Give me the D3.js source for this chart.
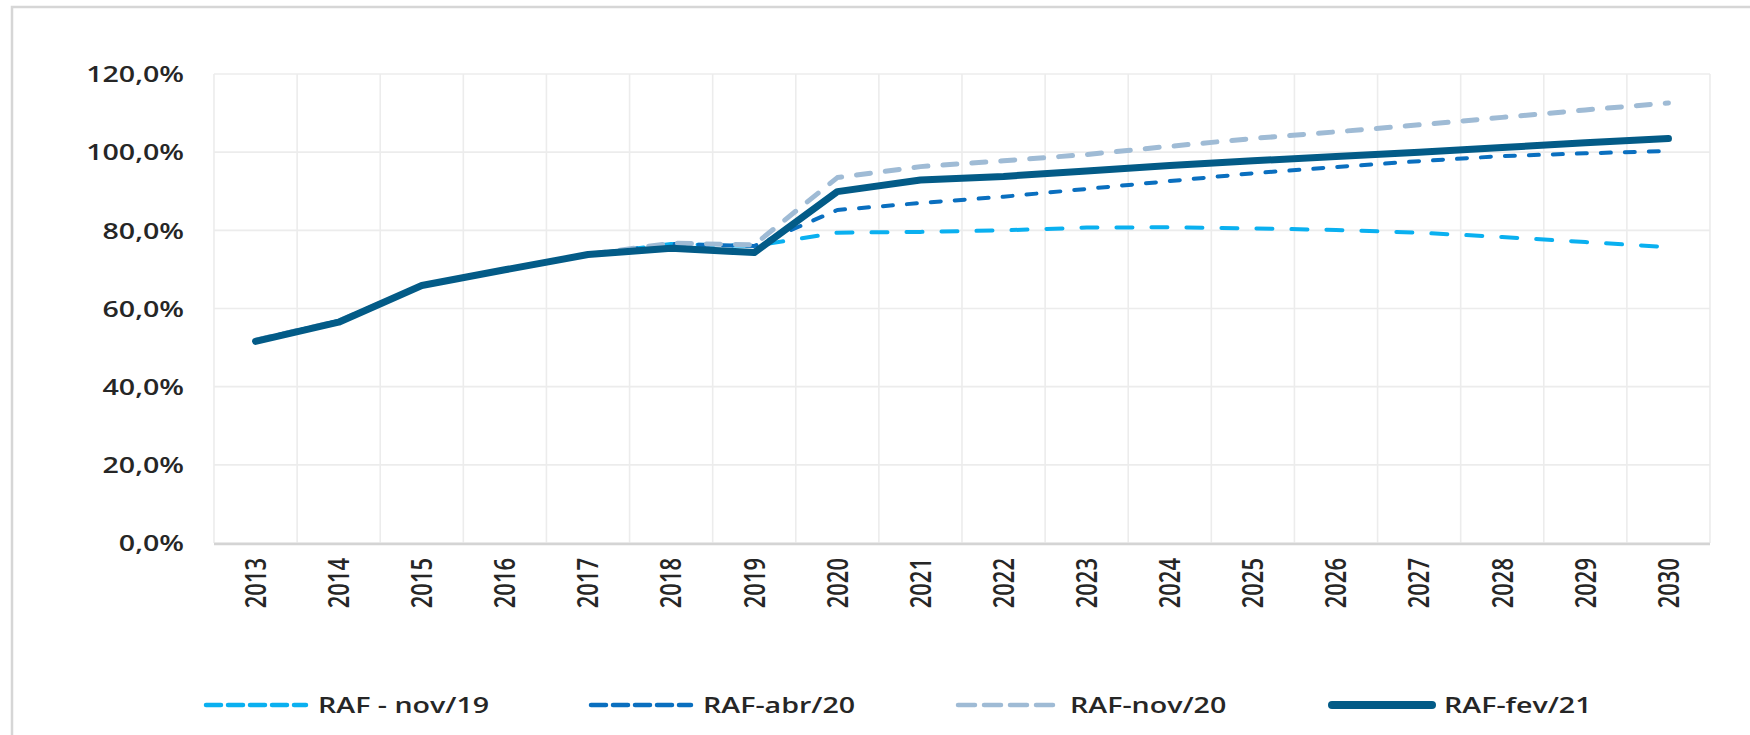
<!DOCTYPE html>
<html>
<head>
<meta charset="utf-8">
<script src="https://cdn.jsdelivr.net/npm/d3@7"></script>
<style>
  html, body { margin: 0; padding: 0; background: #fff; }
  #chart text { font-family: 'Open Sans', sans-serif; fill: #262626; font-weight: 600; }
</style>
</head>
<body>
<div id="chart"></div>
<script>
// categories
const years = ['2013', '2014', '2015', '2016', '2017', '2018', '2019', '2020', '2021',
  '2022', '2023', '2024', '2025', '2026', '2027', '2028', '2029', '2030'];
// series values (% of GDP)
const rafNov19 = [51.9, 56.8, 65.9, 69.9, 73.8, 76.5, 76.0, 79.4, 79.6, 80.0, 80.7, 80.8, 80.5, 80.1, 79.4, 78.3, 77.0, 75.7];
const rafAbr20 = [51.9, 56.8, 65.9, 69.9, 73.8, 76.5, 76.0, 85.2, 87.0, 88.6, 90.6, 92.6, 94.6, 96.2, 97.7, 99.0, 99.7, 100.3];
const rafNov20 = [51.9, 56.8, 65.9, 69.9, 73.8, 76.7, 76.3, 93.5, 96.3, 97.8, 99.4, 101.5, 103.5, 105.2, 107.0, 108.9, 110.8, 112.6];
const rafFev21 = [51.6, 56.5, 65.9, 69.9, 73.8, 75.4, 74.3, 89.9, 92.9, 93.8, 95.2, 96.6, 97.8, 98.9, 100.0, 101.2, 102.4, 103.5];
// tick labels
const yTicks = [0, 20, 40, 60, 80, 100, 120];
const seriesNames = ['RAF - nov/19', 'RAF-abr/20', 'RAF-nov/20', 'RAF-fev/21'];

const width = 1750;
const height = 735;
const plot = { left: 214, right: 1710, top: 74, bottom: 543 };
const stretch = 1.3; // text in the original is widened

const series = [
  { name: seriesNames[0], values: rafNov19, color: '#0ab0f0', w: 4, dash: '16,19', legendDash: '15,7', lx: 204 },
  { name: seriesNames[1], values: rafAbr20, color: '#0a6fbf', w: 4, dash: '10,14', legendDash: '15,7', lx: 589 },
  { name: seriesNames[2], values: rafNov20, color: '#9fbbd5', w: 5, dash: '14,15', legendDash: '17,9', lx: 956 },
  { name: seriesNames[3], values: rafFev21, color: '#035b87', w: 7, dash: null, legendDash: null, lx: 1330 }
];

const br = d3.formatLocale({ decimal: ',', thousands: '.', grouping: [3], currency: ['R$', ''] });
const fmt = br.format('.1f');

const svg = d3.select('#chart').append('svg')
  .attr('width', width)
  .attr('height', height);

/* frame */
svg.append('rect')
  .attr('x', 12).attr('y', 7)
  .attr('width', width + 20).attr('height', height + 20)
  .attr('fill', 'none')
  .attr('stroke', '#d6d6d6')
  .attr('stroke-width', 2.5);

/* Scale */
const xScale = d3.scaleBand()
  .domain(years)
  .range([plot.left, plot.right])
  .paddingInner(0).paddingOuter(0);
const cx = d => xScale(d) + xScale.bandwidth() / 2;

const yScale = d3.scaleLinear()
  .domain([0, 120])
  .range([plot.bottom, plot.top]);

/* grid */
const grid = svg.append('g').attr('class', 'grid');
grid.selectAll('.hgrid')
  .data(yTicks).enter()
  .append('line')
  .attr('x1', plot.left).attr('x2', plot.right)
  .attr('y1', d => yScale(d)).attr('y2', d => yScale(d))
  .attr('stroke', '#ececec')
  .attr('stroke-width', 1.6);
grid.selectAll('.vgrid')
  .data(years.concat(['end'])).enter()
  .append('line')
  .attr('x1', d => d === 'end' ? plot.right : xScale(d))
  .attr('x2', d => d === 'end' ? plot.right : xScale(d))
  .attr('y1', plot.top).attr('y2', plot.bottom)
  .attr('stroke', '#ececec')
  .attr('stroke-width', 1.6);
// bottom axis line
grid.append('line')
  .attr('x1', plot.left).attr('x2', plot.right)
  .attr('y1', plot.bottom + 1).attr('y2', plot.bottom + 1)
  .attr('stroke', '#d4d4d4')
  .attr('stroke-width', 2.5);

/* Add Axis into SVG */
const yAxis = d3.axisLeft(yScale).tickValues(yTicks).tickSize(0).tickFormat(d => fmt(d) + '%');
const yg = svg.append('g').attr('transform', 'translate(184,0)').call(yAxis);
yg.select('.domain').remove();
yg.selectAll('text')
  .attr('x', 0).attr('dy', '0.35em')
  .attr('text-anchor', 'end')
  .attr('transform', `scale(${stretch},1)`)
  .style('font-size', '22px');

const xAxis = d3.axisBottom(xScale).tickSize(0);
const xg = svg.append('g').attr('transform', 'translate(0,558)').call(xAxis);
xg.select('.domain').remove();
xg.selectAll('text')
  .attr('x', 0).attr('y', 0).attr('dy', '0.36em')
  .attr('text-anchor', 'end')
  .attr('transform', `scale(${stretch},1) rotate(-90)`)
  .style('font-size', '22px');

/* lines */
const line = d3.line()
  .x((d, i) => cx(years[i]))
  .y(d => yScale(d));

svg.append('g').attr('class', 'lines')
  .selectAll('path')
  .data(series).enter()
  .append('path')
  .attr('fill', 'none')
  .attr('d', d => line(d.values))
  .attr('stroke', d => d.color)
  .attr('stroke-width', d => d.w)
  .attr('stroke-dasharray', d => d.dash)
  .attr('stroke-linecap', 'round')
  .attr('stroke-linejoin', 'round');

// legend
const legend = svg.append('g').attr('class', 'legend');
const items = legend.selectAll('g')
  .data(series).enter()
  .append('g')
  .attr('transform', d => `translate(${d.lx},705)`);
items.append('line')
  .attr('x1', 2).attr('x2', 102)
  .attr('y1', 0).attr('y2', 0)
  .attr('stroke', d => d.color)
  .attr('stroke-width', d => d.dash ? 4.5 : 8)
  .attr('stroke-dasharray', d => d.legendDash)
  .attr('stroke-linecap', 'round');
items.append('text')
  .attr('transform', `translate(114,0) scale(${stretch},1)`)
  .attr('dy', '0.35em')
  .style('font-size', '22px')
  .text(d => d.name);
</script>
</body>
</html>
